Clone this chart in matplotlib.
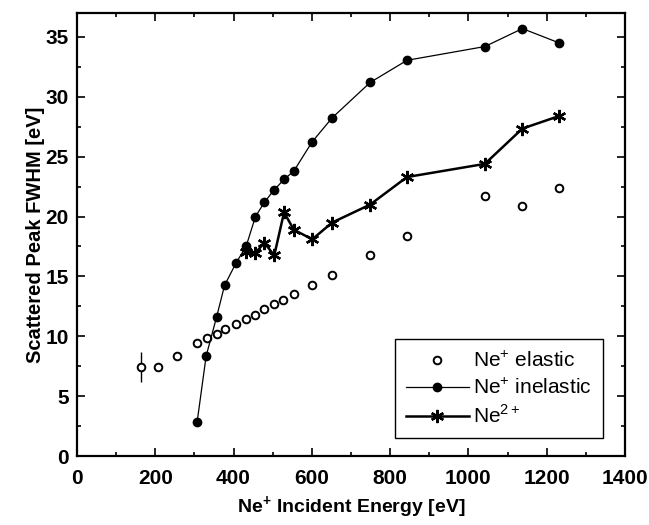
import matplotlib.pyplot as plt
from matplotlib.ticker import MultipleLocator

plt.rcParams['font.family'] = ['Liberation Sans', 'DejaVu Sans']
plt.rcParams['mathtext.fontset'] = 'custom'
plt.rcParams['mathtext.rm'] = 'Liberation Sans'
plt.rcParams['mathtext.bf'] = 'Liberation Sans:bold'

# Ne+ elastic peak width
elastic_energy = [163, 206, 256, 307, 331, 357, 377, 406, 432, 455, 479, 503,
                  527, 554, 601, 652, 749, 843, 1042, 1138, 1232]
elastic_fwhm = [7.45, 7.45, 8.35, 9.4, 9.85, 10.2, 10.6, 11.0, 11.45, 11.8, 12.25,
                12.7, 13.05, 13.5, 14.3, 15.1, 16.8, 18.4, 21.7, 20.85, 22.35]
# only the lowest-energy point carries an error bar
err_energy = [163]
err_fwhm = [7.45]
err_size = [1.25]

# Ne+ inelastic peak width
inelastic_energy = [307, 330, 357, 377, 406, 432, 456, 479, 503, 529, 554, 601,
                    652, 749, 843, 1042, 1138, 1232]
inelastic_fwhm = [2.85, 8.35, 11.65, 14.25, 16.1, 17.5, 20.0, 21.2, 22.2, 23.1,
                  23.8, 26.25, 28.25, 31.2, 33.05, 34.2, 35.7, 34.5]

# Ne2+ peak width
ne2_energy = [432, 455, 479, 504, 529, 554, 601, 652, 749, 843, 1042, 1138, 1232]
ne2_fwhm = [17.0, 16.95, 17.8, 16.75, 20.35, 18.9, 18.1, 19.5, 21.0, 23.3,
            24.4, 27.35, 28.4]

fig = plt.figure(figsize=(6.49, 5.25), dpi=100)
ax = fig.add_axes([0.1186, 0.1314, 0.8444, 0.8438])

ax.errorbar(err_energy, err_fwhm, yerr=err_size, fmt='none', ecolor='black',
            elinewidth=1, capsize=0)
ax.plot(elastic_energy, elastic_fwhm, 'o', ms=5.5, mfc='white', mec='black',
        mew=1.4, label=r'Ne$^{+}$ elastic')
ax.plot(inelastic_energy, inelastic_fwhm, '-o', color='black', lw=0.9, ms=6,
        label=r'Ne$^{+}$ inelastic')
ax.plot(ne2_energy, ne2_fwhm, '-', color='black', lw=1.8, marker=(6, 2, 0),
        ms=9.5, mew=1.7, label=r'Ne$^{2+}$')

ax.set_xlim(0, 1400)
ax.set_ylim(0, 37)
ax.xaxis.set_major_locator(MultipleLocator(200))
ax.xaxis.set_minor_locator(MultipleLocator(100))
ax.yaxis.set_major_locator(MultipleLocator(5))
ax.yaxis.set_minor_locator(MultipleLocator(2.5))
ax.tick_params(which='both', direction='in', top=True, right=True, width=1.2)
ax.tick_params(which='major', length=6, labelsize=15)
ax.tick_params(axis='x', which='major', pad=9)
ax.tick_params(axis='y', which='major', pad=6)
ax.tick_params(which='minor', length=3)
for lbl in ax.get_xticklabels() + ax.get_yticklabels():
    lbl.set_fontweight('bold')
for sp in ax.spines.values():
    sp.set_linewidth(1.6)

ax.set_xlabel(r'Ne$^{\mathbf{+}}$ Incident Energy [eV]', fontsize=14,
              fontweight='bold', labelpad=5)
ax.set_ylabel('Scattered Peak FWHM [eV]', fontsize=14.5, fontweight='bold',
              labelpad=0)

leg = ax.legend(loc='lower right', bbox_to_anchor=(0.96, 0.04), fontsize=15,
                fancybox=False, edgecolor='black', framealpha=1,
                handlelength=3.0, handletextpad=0.2, borderpad=0.55,
                labelspacing=0.3, borderaxespad=0)
leg.get_frame().set_linewidth(1.0)

fig.savefig('out.png', dpi=100)
